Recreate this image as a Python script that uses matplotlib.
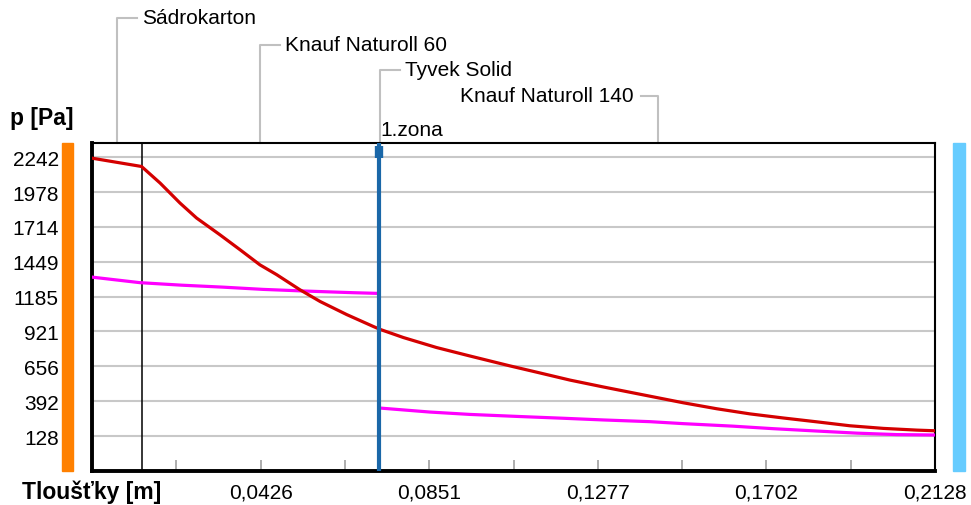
import matplotlib.pyplot as plt
from matplotlib.patches import Rectangle
from matplotlib.transforms import blended_transform_factory
import numpy as np

plt.rcParams['font.family'] = ['Liberation Sans', 'DejaVu Sans']

# skladba konstrukce (tloušťky vrstev v m)
layer_names = ["Sádrokarton", "Knauf Naturoll 60", "Tyvek Solid", "Knauf Naturoll 140"]
layer_thick = [0.0125, 0.06, 0.0003, 0.14]

# průběh částečného tlaku vodní páry p [Pa]
x_p = [0, 0.0125, 0.0172, 0.0222, 0.0264, 0.0323, 0.0374, 0.0424, 0.0466, 0.0525,
       0.0576, 0.0643, 0.0710, 0.0727, 0.0786, 0.0870, 0.0954, 0.1055, 0.1123,
       0.1207, 0.1291, 0.1375, 0.1493, 0.1577, 0.1661, 0.1745, 0.1829,
       0.1913, 0.1998, 0.2082, 0.2128]
p = [2235, 2172, 2046, 1895, 1781, 1654, 1540, 1426, 1352, 1237,
     1148, 1049, 959, 937, 875, 799, 735, 660, 612,
     552, 500, 450, 380, 335, 296, 265, 236,
     206, 186, 173, 168]

# nasycený tlak vodní páry
x_ps1 = [0, 0.0121, 0.0226, 0.0331, 0.0432, 0.0542, 0.0659, 0.0718]
ps1 = [1333, 1291, 1272, 1257, 1240, 1227, 1215, 1210]
x_ps2 = [0.0728, 0.0853, 0.0954, 0.1080, 0.1189, 0.1291, 0.1409,
         0.1493, 0.1618, 0.1719, 0.1830, 0.1931, 0.2032, 0.2128]
ps2 = [340, 310, 292, 276, 263, 250, 237,
       222, 203, 184, 166, 150, 139, 136]

y_ticks = [128, 392, 656, 921, 1185, 1449, 1714, 1978, 2242]
x_ticks = [0.0426, 0.0851, 0.1277, 0.1702, 0.2128]
x_minor = [0.0213, 0.0638, 0.1064, 0.1489, 0.1915]

W, H = 971, 506
fig = plt.figure(figsize=(W / 100, H / 100), dpi=100)
ax = fig.add_axes([92 / W, 34 / H, 843 / W, 328 / H])

total = sum(layer_thick)
bounds = np.cumsum([0] + layer_thick)
ax.set_xlim(0, total)
ax.set_ylim(-137, 2350)

for yt in y_ticks:
    ax.axhline(yt, color='#c8c8c8', lw=1.5, zorder=0)

ax.plot(x_ps1, ps1, color='#ff00ff', lw=2.3, zorder=3)
ax.plot(x_ps2, ps2, color='#ff00ff', lw=2.3, zorder=3)
ax.plot(x_p, p, color='#d40000', lw=2.3, zorder=4)

# hranice vrstev
ax.axvline(bounds[1], color='black', lw=1.1, zorder=2)
ax.axvline(bounds[2], color='#1a67a8', lw=3, zorder=5)
ax.plot([bounds[2], bounds[2]], [0.955, 0.99], transform=blended_transform_factory(ax.transData, ax.transAxes),
         color='#1a67a8', lw=6, solid_capstyle='butt', zorder=6)

ax.set_yticks(y_ticks)
ax.set_yticklabels([str(v) for v in y_ticks], fontsize=15)
ax.tick_params(axis='y', length=0, pad=24)
ax.set_xticks(x_ticks)
ax.set_xticklabels([f"{v:.4f}".replace('.', ',') for v in x_ticks], fontsize=15)
ax.set_xticks(x_minor, minor=True)
ax.tick_params(axis='x', which='both', direction='in', length=8, width=1.2, color='#a0a0a0', pad=8)

for side in ['left', 'bottom']:
    ax.spines[side].set_linewidth(2.8)
for side in ['top', 'right']:
    ax.spines[side].set_linewidth(1.5)

# barevné pruhy prostředí
ax.add_patch(Rectangle((-30 / 843, 0), 11 / 843, 1, transform=ax.transAxes,
                       color='#ff8000', clip_on=False))
ax.add_patch(Rectangle((861 / 843, 0), 12 / 843, 1, transform=ax.transAxes,
                       color='#66ccff', clip_on=False))

# popisky vrstev s odkazovými čarami
tr = blended_transform_factory(ax.transData, ax.transAxes)
px = total / 843
label_y = [(472 - 19) / 328, (472 - 46) / 328, (472 - 71) / 328, (472 - 97) / 328]
for i, name in enumerate(layer_names):
    xm = (bounds[i] + bounds[i + 1]) / 2
    yl = label_y[i]
    if i < 3:
        ax.plot([xm, xm, xm + 20 * px], [1, yl, yl], transform=tr, color='#c0c0c0',
                lw=1.5, clip_on=False)
        ax.text(xm + 25 * px, yl, name, transform=tr, fontsize=15, va='center', ha='left')
    else:
        ax.plot([xm, xm, xm - 17 * px], [1, yl, yl], transform=tr, color='#c0c0c0',
                lw=1.5, clip_on=False)
        ax.text(xm - 24 * px, yl, name, transform=tr, fontsize=15, va='center', ha='right')

ax.text(bounds[2] + 1 * px, 1.04, "1.zona", transform=tr, fontsize=15, va='center', ha='left')

fig.text(10 / W, 1 - 119 / H, "p [Pa]", fontsize=16.5, fontweight='bold', va='center', ha='left')
fig.text(22 / W, 1 - 492 / H, "Tloušťky [m]", fontsize=16.5, fontweight='bold', va='center', ha='left')

fig.savefig("out.png", dpi=100)
